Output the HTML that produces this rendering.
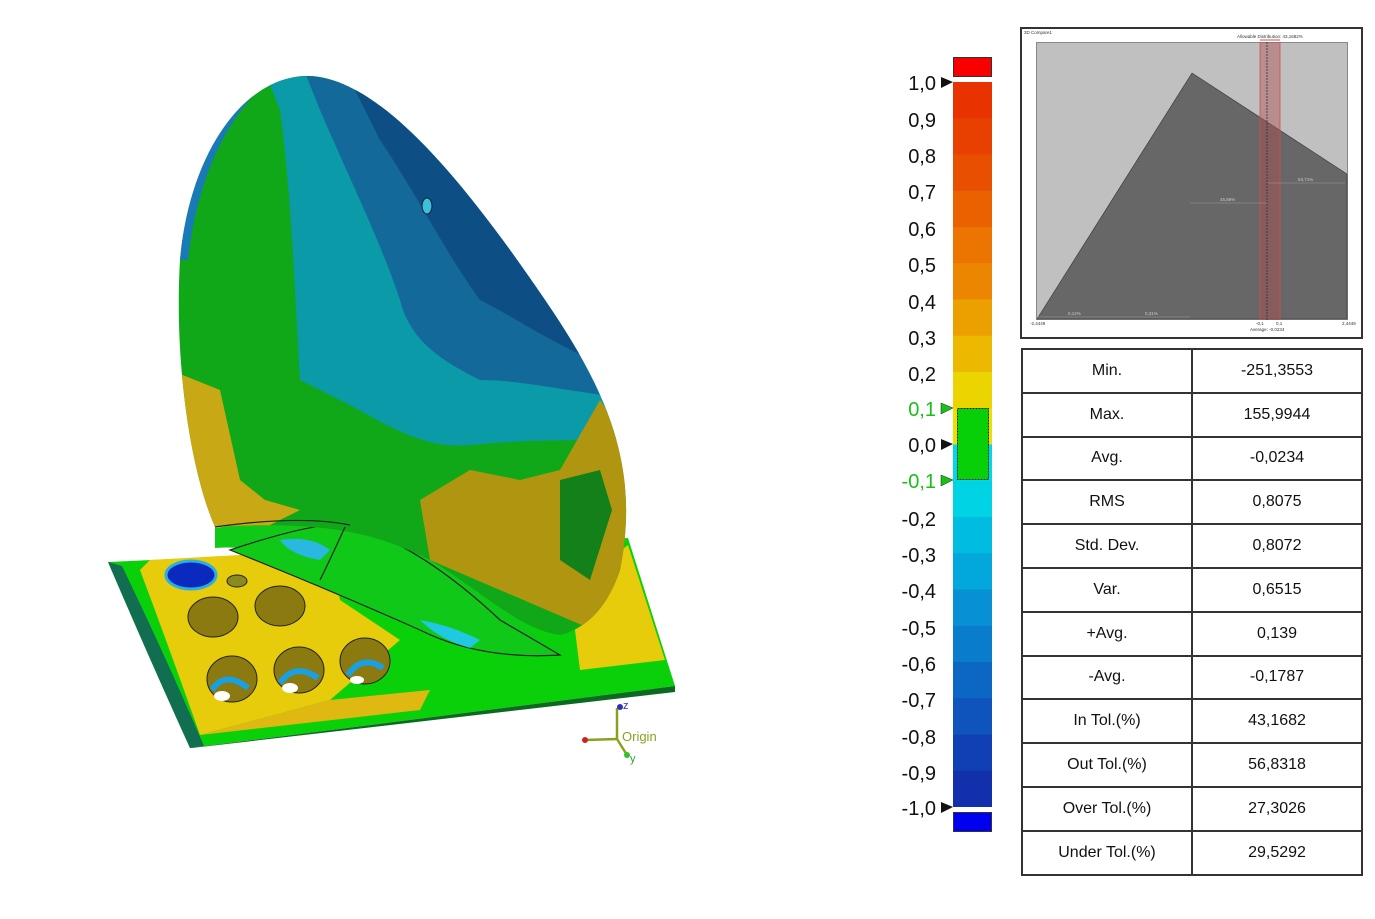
<!DOCTYPE html>
<html><head><meta charset="utf-8"><style>
html,body{margin:0;padding:0;background:#fff;}
body{width:1375px;height:919px;position:relative;overflow:hidden;font-family:"Liberation Sans",sans-serif;}
table{position:absolute;left:1021px;top:348px;border-collapse:collapse;}
td{border:2px solid #333;width:168px;height:41.8px;text-align:center;font-size:16px;color:#111;padding:0;font-family:"Liberation Sans",sans-serif;}
</style></head><body>
<svg width="1375" height="919" style="position:absolute;left:0;top:0">
<defs>
<clipPath id="dome"><path d="M215,527 C190,470 174,360 180,260 C190,150 245,78 305,76 C380,74 470,190 545,300 C610,395 640,470 620,570 C605,615 580,630 560,635 C520,630 480,590 430,560 C380,535 330,520 215,527 Z"/></clipPath>
</defs>
<path d="M108,562 L628,538 L675,686 L190,748 Q150,660 108,562 Z" fill="#0ad00a"/>
<path d="M108,562 Q150,660 190,748 L204,746 Q165,655 122,566 Z" fill="#126e50"/>
<path d="M190,748 L675,686 L675,692 L192,748 Z" fill="#0b6a20"/>
<path d="M150,560 L330,550 L340,600 L400,640 L330,700 L200,735 Q170,650 140,570 Z" fill="#e6cc0a"/>
<path d="M570,590 L628,545 L665,660 L580,670 Z" fill="#e6cc0a"/>
<path d="M200,735 L420,710 L430,690 L330,700 Z" fill="#e0b812"/>
<path d="M215,528 Q300,515 350,525 Q460,560 540,640 Q570,660 560,645 L520,655 Q460,650 420,630 Q330,590 290,560 Q250,545 215,548 Z" fill="#10c818"/>
<path d="M230,550 Q320,520 350,525 Q420,545 500,620 L560,655 Q480,660 420,630 Q330,590 230,550 Z" fill="#10c818" stroke="#222" stroke-width="1.2"/>
<path d="M280,540 Q310,535 330,550 L320,560 Q290,555 280,540 Z" fill="#2ab8e0"/>
<path d="M420,620 Q450,625 480,640 L470,648 Q440,640 420,620 Z" fill="#20c8e0"/>
<g clip-path="url(#dome)">
<rect x="170" y="70" width="470" height="580" fill="#10a818"/>
<path d="M170,60 L640,60 L640,440 C560,440 520,440 470,445 C420,450 380,420 340,400 L300,380 C295,300 292,200 280,110 L260,60 Z" fill="#0a9aa8"/>
<path d="M300,60 L640,60 L640,400 C560,390 520,380 480,380 C440,360 410,340 400,300 C380,240 350,180 320,110 Z" fill="#136a9a"/>
<path d="M340,60 L640,60 L640,380 C560,350 520,320 480,300 C450,260 420,200 380,140 Z" fill="#0d4f85"/>
<path d="M170,370 L220,390 L240,480 L265,500 L300,510 L260,530 L170,530 Z" fill="#c8a814"/>
<path d="M420,500 L470,470 L520,480 L560,470 L600,400 L640,460 L640,650 L430,560 Z" fill="#b09610"/>
<path d="M560,480 L600,470 L612,510 L590,580 L560,560 Z" fill="#14801a"/>
<path d="M170,60 L305,60 C250,80 200,150 188,260 L170,260 Z" fill="#1a7ab8"/>
</g>
<ellipse cx="427" cy="206" rx="5" ry="8" fill="#3ac0e0" stroke="#222"/>
<path d="M215,527 Q300,515 350,525" fill="none" stroke="#222" stroke-width="1.2"/>
<path d="M345,527 Q330,560 320,580" fill="none" stroke="#222" stroke-width="1.2"/>
<ellipse cx="191" cy="575" rx="25" ry="14" fill="#0a2abf" stroke="#2ab0e0" stroke-width="3"/>
<ellipse cx="237" cy="581" rx="10" ry="6" fill="#8a8a20" stroke="#222"/>
<g fill="#8a7a10" stroke="#222">
<ellipse cx="213" cy="617" rx="25" ry="20"/><ellipse cx="280" cy="606" rx="25" ry="20"/>
<ellipse cx="232" cy="679" rx="25" ry="23"/><ellipse cx="299" cy="670" rx="25" ry="23"/><ellipse cx="365" cy="661" rx="25" ry="23"/>
</g>
<g fill="none" stroke="#1aa0e0" stroke-width="6">
<path d="M212,690 Q225,670 248,688"/><path d="M280,683 Q295,662 318,678"/><path d="M348,675 Q362,654 383,668"/>
</g>
<g fill="#fff"><ellipse cx="222" cy="696" rx="8" ry="5"/><ellipse cx="290" cy="688" rx="8" ry="5"/><ellipse cx="357" cy="680" rx="7" ry="4"/></g>
<g stroke="#8aa020" stroke-width="2.5" fill="none"><path d="M617,739 L617,708"/><path d="M617,739 L585,740"/><path d="M617,739 L627,755"/></g>
<circle cx="620" cy="707" r="3" fill="#3030c0"/><circle cx="585" cy="740" r="3" fill="#d02020"/><circle cx="627" cy="755" r="3" fill="#30c030"/>
<text x="622" y="741" font-family="Liberation Sans,sans-serif" font-size="13" fill="#8aa020">Origin</text>
<text x="623" y="709" font-family="Liberation Sans,sans-serif" font-size="11" fill="#3030c0">z</text>
<text x="630" y="762" font-family="Liberation Sans,sans-serif" font-size="11" fill="#30a030">y</text>

<rect x="953.5" y="57.5" width="38" height="19" fill="#f80000" stroke="#333"/>
<rect x="953.5" y="812.5" width="38" height="19" fill="#0000f0" stroke="#333"/>
<g>
<rect x="953" y="82" width="39" height="37" fill="#e83200"/>
<rect x="953" y="118.25" width="39" height="37" fill="#e84000"/>
<rect x="953" y="154.5" width="39" height="37" fill="#e85000"/>
<rect x="953" y="190.75" width="39" height="37" fill="#ea6200"/>
<rect x="953" y="227" width="39" height="37" fill="#ec7400"/>
<rect x="953" y="263.25" width="39" height="37" fill="#ec8600"/>
<rect x="953" y="299.5" width="39" height="37" fill="#eca000"/>
<rect x="953" y="335.75" width="39" height="37" fill="#ecb800"/>
<rect x="953" y="372" width="39" height="37" fill="#ecd400"/>
<rect x="953" y="408.25" width="39" height="37" fill="#ece000"/>
<rect x="953" y="444.5" width="39" height="37" fill="#00d8e8"/>
<rect x="953" y="480.75" width="39" height="37" fill="#00d4e4"/>
<rect x="953" y="517" width="39" height="37" fill="#00bce0"/>
<rect x="953" y="553.25" width="39" height="37" fill="#02a8dc"/>
<rect x="953" y="589.5" width="39" height="37" fill="#0890d4"/>
<rect x="953" y="625.75" width="39" height="37" fill="#0a7ccc"/>
<rect x="953" y="662" width="39" height="37" fill="#0c66c4"/>
<rect x="953" y="698.25" width="39" height="37" fill="#0e54bc"/>
<rect x="953" y="734.5" width="39" height="37" fill="#1040b4"/>
<rect x="953" y="770.75" width="39" height="36.25" fill="#1230ac"/>
</g>
<rect x="957.5" y="408.5" width="31" height="71" fill="#08d008" stroke="#222" stroke-dasharray="2,1"/>
<g font-family="Liberation Sans,sans-serif" font-size="20" fill="#111" text-anchor="end">
<text x="936" y="90">1,0</text><text x="936" y="127">0,9</text><text x="936" y="163">0,8</text><text x="936" y="199">0,7</text>
<text x="936" y="236">0,6</text><text x="936" y="272">0,5</text><text x="936" y="309">0,4</text><text x="936" y="345">0,3</text>
<text x="936" y="381">0,2</text><text x="936" y="416" fill="#18c018">0,1</text><text x="936" y="452">0,0</text>
<text x="936" y="488" fill="#18c018">-0,1</text><text x="936" y="526">-0,2</text><text x="936" y="562">-0,3</text>
<text x="936" y="598">-0,4</text><text x="936" y="635">-0,5</text><text x="936" y="671">-0,6</text><text x="936" y="707">-0,7</text>
<text x="936" y="744">-0,8</text><text x="936" y="780">-0,9</text><text x="936" y="815">-1,0</text>
</g>
<g fill="#111"><path d="M941,77 L953,82 L941,88Z"/><path d="M941,439 L953,444 L941,450Z"/><path d="M941,802 L953,807 L941,813Z"/></g>
<g fill="#18c018" stroke="#222" stroke-width="0.5"><path d="M941,403 L953,408 L941,414Z"/><path d="M941,475 L953,480 L941,486Z"/></g>

<rect x="1021" y="28" width="341" height="310" fill="#fff" stroke="#333" stroke-width="2"/>
<rect x="1036.5" y="42.5" width="311" height="277" fill="#c0c0c0" stroke="#888"/>
<path d="M1037,319 L1192,73 L1347,174 L1347,319 Z" fill="#676767" stroke="#333" stroke-width="0.6"/>
<rect x="1260" y="42" width="20" height="278" fill="#b05050" fill-opacity="0.45"/>
<line x1="1260" y1="42" x2="1260" y2="320" stroke="#d05050" stroke-width="0.8"/>
<line x1="1280" y1="42" x2="1280" y2="320" stroke="#d05050" stroke-width="0.8"/>
<line x1="1267" y1="42" x2="1267" y2="320" stroke="#333" stroke-dasharray="2,1" stroke-width="0.8"/>
<g stroke="#999" stroke-width="0.6"><line x1="1190" y1="203" x2="1267" y2="203"/><line x1="1268" y1="183" x2="1345" y2="183"/><line x1="1037" y1="317" x2="1190" y2="317"/></g>
<line x1="1260" y1="40" x2="1280" y2="40" stroke="#d05050"/>
<g font-family="Liberation Sans,sans-serif" font-size="4.5" fill="#333">
<text x="1024" y="34">3D Compare1</text><text x="1237" y="38">Allowable Distribution: 43,1682%</text>
<text x="1030" y="325">-2,4449</text><text x="1342" y="325">2,4449</text><text x="1250" y="331">Average: -0,0234</text>
<text x="1256" y="325">-0,1</text><text x="1276" y="325">0,1</text>
<text x="1220" y="201" fill="#ccc">45,86%</text><text x="1298" y="181" fill="#ccc">53,71%</text>
<text x="1068" y="315" fill="#ccc">0,12%</text><text x="1145" y="315" fill="#ccc">0,31%</text>
</g>
</svg>
<table>
<tr><td>Min.</td><td>-251,3553</td></tr>
<tr><td>Max.</td><td>155,9944</td></tr>
<tr><td>Avg.</td><td>-0,0234</td></tr>
<tr><td>RMS</td><td>0,8075</td></tr>
<tr><td>Std. Dev.</td><td>0,8072</td></tr>
<tr><td>Var.</td><td>0,6515</td></tr>
<tr><td>+Avg.</td><td>0,139</td></tr>
<tr><td>-Avg.</td><td>-0,1787</td></tr>
<tr><td>In Tol.(%)</td><td>43,1682</td></tr>
<tr><td>Out Tol.(%)</td><td>56,8318</td></tr>
<tr><td>Over Tol.(%)</td><td>27,3026</td></tr>
<tr><td>Under Tol.(%)</td><td>29,5292</td></tr>
</table>
</body></html>
